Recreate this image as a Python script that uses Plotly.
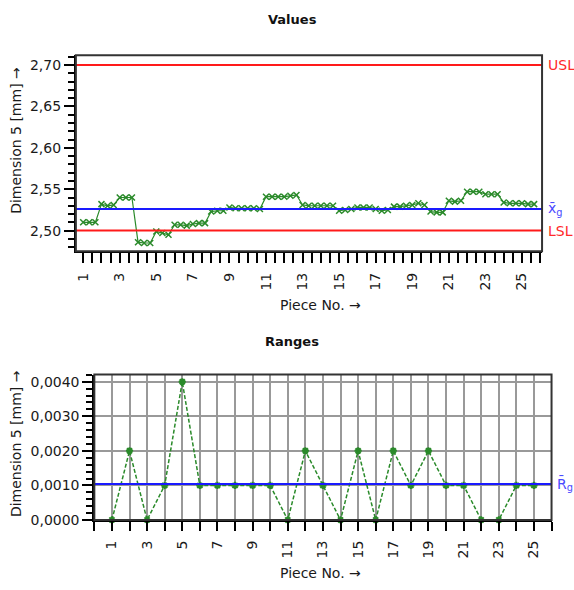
import numpy as np
import plotly.graph_objects as go

# Three measurements per piece of dimension 5 (mm)
pieces = list(range(1, 26))
meas_1 = [2.510, 2.532, 2.540, 2.486, 2.499, 2.507, 2.508, 2.523, 2.528, 2.527,
          2.541, 2.541, 2.531, 2.530, 2.524, 2.528, 2.526, 2.529, 2.531, 2.523,
          2.536, 2.547, 2.544, 2.534, 2.533]
meas_2 = [2.510, 2.530, 2.540, 2.485, 2.497, 2.507, 2.509, 2.524, 2.527, 2.527,
          2.541, 2.542, 2.530, 2.530, 2.525, 2.528, 2.524, 2.529, 2.533, 2.522,
          2.535, 2.547, 2.544, 2.533, 2.532]
meas_3 = [2.510, 2.531, 2.540, 2.485, 2.495, 2.506, 2.509, 2.524, 2.527, 2.526,
          2.541, 2.543, 2.530, 2.530, 2.526, 2.528, 2.525, 2.530, 2.531, 2.522,
          2.536, 2.547, 2.544, 2.533, 2.532]
usl = 2.70
lsl = 2.50
value_ticks = [2.50, 2.55, 2.60, 2.65, 2.70]
range_ticks = [0.0, 0.001, 0.002, 0.003, 0.004]
piece_labels = [str(p) for p in pieces if p % 2 == 1]

W, H = 574, 590
GREEN = "#2a8a2a"
FONT = "DejaVu Sans, Verdana, sans-serif"


def px(x):
    return x / W


def py(y):
    return 1 - y / H


# individual readings spread across each piece's slot
meas = np.array([meas_1, meas_2, meas_3]).T
xs, ys = [], []
for k, row in zip(pieces, meas):
    for j, v in enumerate(row):
        xs.append(k + j / 3)
        ys.append(v)
grand_mean = float(np.mean(meas))
ranges = np.round(meas.max(axis=1) - meas.min(axis=1), 4)
mean_range = float(np.mean(ranges))

fig = go.Figure()

fig.add_trace(go.Scatter(
    x=xs, y=ys, mode="lines+markers", xaxis="x", yaxis="y",
    line=dict(color=GREEN, width=1.2),
    marker=dict(symbol="x-thin-open", size=6, line=dict(color=GREEN, width=1.5)),
    showlegend=False, cliponaxis=False))

fig.add_trace(go.Scatter(
    x=pieces, y=ranges, mode="lines+markers", xaxis="x2", yaxis="y2",
    line=dict(color=GREEN, width=1.5, dash="4px,2px"),
    marker=dict(symbol="asterisk-open", size=6, line=dict(color=GREEN, width=2)),
    showlegend=False, cliponaxis=False))

shapes = []
# specification limits and centre lines
for yv, col, xa, ya in [(usl, "#ff1a1a", "x", "y"), (lsl, "#ff1a1a", "x", "y"),
                        (grand_mean, "#1a1aff", "x", "y"),
                        (mean_range, "#1a1aff", "x2", "y2")]:
    shapes.append(dict(type="line", xref=f"{xa} domain", yref=ya, x0=0, x1=1,
                       y0=yv, y1=yv, line=dict(color=col, width=2), layer="above"))
# frames
for xa, ya in [("x", "y"), ("x2", "y2")]:
    shapes.append(dict(type="rect", xref=f"{xa} domain", yref=f"{ya} domain",
                       x0=0, x1=1, y0=0, y1=1, line=dict(color="#333", width=2),
                       layer="above"))

tickfont = dict(family=FONT, size=14, color="#1a1a1a")
axis_common = dict(showline=True, linecolor="black", linewidth=2, zeroline=False,
                   ticks="outside", tickcolor="black", tickwidth=1.5, tickfont=tickfont)

fig.update_layout(
    width=W, height=H, margin=dict(l=0, r=0, t=0, b=0),
    paper_bgcolor="white", plot_bgcolor="white", separators=",.",
    shapes=shapes,
    xaxis=dict(domain=[px(75), px(542)], range=[0.6, 26.1], anchor="y",
               tickmode="array", tickvals=[p for p in pieces if p % 2 == 1],
               ticktext=piece_labels, tickangle=-90, ticklen=10, showgrid=False,
               ticklabelstandoff=4,
               minor=dict(tickmode="array", tickvals=[i / 2 for i in range(1, 53)],
                          ticks="outside", ticklen=10, tickwidth=1.5, tickcolor="black",
                          showgrid=False),
               **axis_common),
    yaxis=dict(domain=[py(254), py(55)], range=[2.4752, 2.712], anchor="x",
               tickmode="array", tickvals=value_ticks, tickformat=".2f",
               ticklen=10, showgrid=False,
               minor=dict(tickmode="array",
                          tickvals=[round(2.48 + 0.01 * i, 2) for i in range(24)],
                          ticks="outside", ticklen=6, tickwidth=1.5, tickcolor="black",
                          showgrid=False),
               **axis_common),
    xaxis2=dict(domain=[px(93.5), px(551.5)], range=[0, 26], anchor="y2",
                tickmode="array", tickvals=[p for p in pieces if p % 2 == 1],
                ticktext=piece_labels, tickangle=-90, ticklen=9,
                ticklabelstandoff=4,
                showgrid=True, gridcolor="#999", gridwidth=2,
                minor=dict(tickmode="array", tickvals=list(range(0, 27)),
                           ticks="outside", ticklen=9, tickwidth=1.5, tickcolor="black",
                           showgrid=True, gridcolor="#999", gridwidth=2),
                **axis_common),
    yaxis2=dict(domain=[py(527), py(379.3)], range=[0, 0.00421], anchor="x2",
                tickmode="array", tickvals=range_ticks, tickformat=".4f",
                ticklen=10, showgrid=True, gridcolor="#999", gridwidth=2,
                minor=dict(tickmode="array",
                           tickvals=[round(0.0002 * i, 4) for i in range(22)],
                           ticks="outside", ticklen=6, tickwidth=1.5, tickcolor="black",
                           showgrid=False),
                **axis_common),
)

ann = []
title_font = dict(family=FONT, size=13, color="#111")
center = dict(xref="paper", yref="paper", showarrow=False,
              xanchor="center", yanchor="middle")
ann.append(dict(text="<b>Values</b>", x=px(292), y=py(19), font=title_font, **center))
ann.append(dict(text="<b>Ranges</b>", x=px(292), y=py(346), font=title_font, **center))
lab_font = dict(family=FONT, size=14, color="#1a1a1a")
for yc in (141, 449):
    ann.append(dict(text="Dimension 5 [mm] →", x=px(15), y=py(yc), textangle=-90,
                    font=lab_font, **center))
for yc in (309, 581):
    ann.append(dict(text="Piece No. →", x=px(320), y=py(yc), font=lab_font, **center))

side_font_red = dict(family=FONT, size=14, color="#ff2a2a")
side_font_blue = dict(family=FONT, size=14, color="#4a4aff")
side = dict(xref="paper", showarrow=False, xanchor="left", yanchor="middle")
ann.append(dict(text="USL", x=px(546), y=usl, yref="y", font=side_font_red, **side))
ann.append(dict(text="LSL", x=px(546), y=lsl, yref="y", font=side_font_red, **side))
ann.append(dict(text="x\u0304<sub>g</sub>", x=px(546), y=grand_mean, yref="y",
                font=side_font_blue, **side))
ann.append(dict(text="R\u0304<sub>g</sub>", x=px(555), y=mean_range, yref="y2",
                font=side_font_blue, **side))
fig.update_layout(annotations=ann)

fig.write_html("out.html")
